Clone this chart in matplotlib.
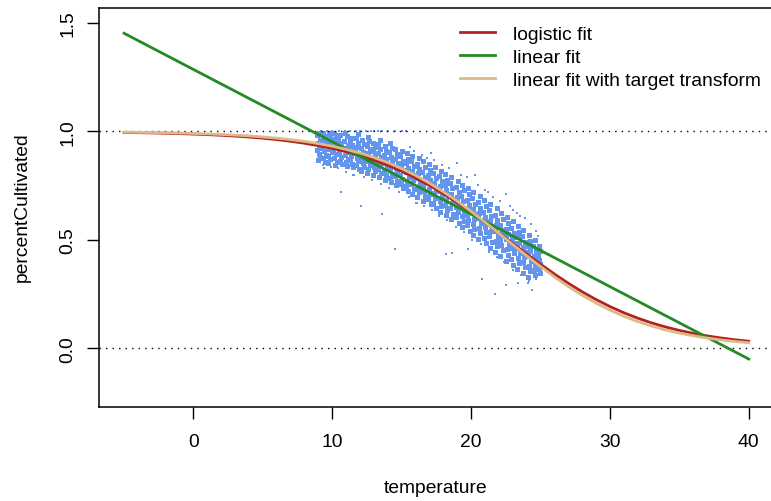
import matplotlib
matplotlib.use("Agg")
import matplotlib.pyplot as plt

plt.rcParams['font.family'] = ['Liberation Sans', 'DejaVu Sans']

# ---- observed points, dense core of the cloud (temperature, percentCultivated) ----
core_temp = [
    9.05, 8.92, 9.13, 8.97, 9.08, 8.88, 9.02, 9.15, 8.95,
    9.33, 9.48, 9.36, 9.52, 9.29, 9.44, 9.55, 9.31, 9.46,
    9.74, 9.86, 9.69, 9.91, 9.78, 9.95, 9.72, 9.84, 9.67,
    10.12, 10.27, 10.08, 10.31, 10.19, 10.05, 10.24, 10.14, 10.33, 10.21,
    10.58, 10.45, 10.66, 10.52, 10.71, 10.49, 10.63, 10.55, 10.68,
    10.93, 11.06, 10.87, 11.11, 10.98, 11.04, 10.91, 11.13, 10.96, 11.08,
    11.37, 11.26, 11.45, 11.31, 11.49, 11.35, 11.28, 11.43, 11.52,
    11.84, 11.71, 11.89, 11.76, 11.67, 11.92, 11.79, 11.86, 11.73, 11.95,
    12.15, 12.28, 12.09, 12.24, 12.33, 12.12, 12.19, 12.27, 12.07,
    12.55, 12.64, 12.49, 12.71, 12.58, 12.67, 12.52, 12.74, 12.61, 12.47,
    12.97, 13.08, 12.91, 13.05, 12.88, 13.12, 12.99, 13.06, 12.93,
    13.42, 13.33, 13.47, 13.29, 13.51, 13.38, 13.45, 13.31, 13.49, 13.36,
    13.77, 13.89, 13.72, 13.84, 13.69, 13.91, 13.75, 13.86, 13.81,
    14.16, 14.27, 14.11, 14.23, 14.31, 14.08, 14.19, 14.29, 14.13, 14.25,
    14.54, 14.66, 14.49, 14.71, 14.58, 14.63, 14.51, 14.69, 14.56,
    15.04, 14.91, 15.09, 14.95, 15.12, 14.88, 15.02, 14.97, 15.07,
    15.36, 15.47, 15.31, 15.44, 15.28, 15.51, 15.39, 15.33, 15.46,
    15.77, 15.68, 15.86, 15.73, 15.91, 15.79, 15.70, 15.88, 15.75,
    16.24, 16.11, 16.28, 16.15, 16.09, 16.31, 16.18, 16.26, 16.13,
    16.55, 16.67, 16.49, 16.71, 16.58, 16.52, 16.64, 16.69, 16.57,
    16.96, 17.07, 16.91, 17.03, 17.11, 16.94, 17.05, 16.89, 17.09,
    17.38, 17.29, 17.46, 17.33, 17.51, 17.35, 17.43, 17.27, 17.48,
    17.83, 17.71, 17.88, 17.76, 17.69, 17.91, 17.79, 17.86, 17.74,
    18.14, 18.26, 18.09, 18.22, 18.31, 18.17, 18.11, 18.28, 18.19,
    18.57, 18.49, 18.66, 18.53, 18.71, 18.61, 18.47, 18.68, 18.55,
    19.06, 18.93, 19.11, 18.97, 19.02, 18.89, 19.08, 18.95, 19.13,
    19.35, 19.47, 19.31, 19.44, 19.29, 19.52, 19.38, 19.46, 19.33,
    19.76, 19.87, 19.71, 19.84, 19.92, 19.73, 19.81, 19.68, 19.89,
    20.17, 20.08, 20.26, 20.13, 20.29, 20.21, 20.11, 20.24, 20.15,
    20.63, 20.51, 20.68, 20.55, 20.49, 20.71, 20.58, 20.66, 20.53,
    20.94, 21.06, 20.89, 21.03, 21.11, 20.97, 21.08, 20.92, 21.05,
    21.37, 21.28, 21.46, 21.33, 21.51, 21.41, 21.31, 21.48, 21.35,
    21.84, 21.72, 21.89, 21.77, 21.69, 21.91, 21.79, 21.86, 21.74,
    22.15, 22.27, 22.09, 22.23, 22.31, 22.12, 22.19, 22.28, 22.07,
    22.56, 22.67, 22.51, 22.64, 22.49, 22.71, 22.58, 22.69, 22.53,
    23.03, 22.91, 23.08, 22.95, 23.12, 22.98, 23.06, 22.89, 23.01,
    23.36, 23.47, 23.31, 23.44, 23.29, 23.51, 23.38, 23.46, 23.33,
    23.77, 23.69, 23.86, 23.73, 23.91, 23.79, 23.71, 23.88, 23.75,
    24.18, 24.27, 24.11, 24.24, 24.09, 24.31, 24.16, 24.22, 24.13,
    24.57, 24.49, 24.66, 24.53, 24.69, 24.58, 24.51, 24.64,
    24.88, 24.97, 24.84, 24.93, 24.99, 24.86, 24.95,
]
core_pct = [
    0.995, 0.985, 0.962, 0.948, 0.931, 0.915, 0.897, 0.882, 0.868,
    0.992, 0.978, 0.959, 0.941, 0.925, 0.909, 0.893, 0.876, 0.861,
    0.991, 0.972, 0.955, 0.938, 0.921, 0.906, 0.889, 0.871, 0.855,
    0.994, 0.983, 0.966, 0.947, 0.930, 0.912, 0.896, 0.879, 0.861, 0.846,
    0.985, 0.964, 0.946, 0.931, 0.917, 0.899, 0.881, 0.866, 0.849,
    0.993, 0.977, 0.958, 0.940, 0.924, 0.907, 0.891, 0.874, 0.858, 0.843,
    0.972, 0.955, 0.936, 0.918, 0.902, 0.886, 0.870, 0.852, 0.835,
    0.988, 0.968, 0.948, 0.930, 0.913, 0.896, 0.880, 0.862, 0.845, 0.828,
    0.962, 0.942, 0.924, 0.906, 0.889, 0.873, 0.855, 0.837, 0.818,
    0.975, 0.955, 0.935, 0.917, 0.899, 0.881, 0.864, 0.846, 0.828, 0.810,
    0.948, 0.927, 0.909, 0.891, 0.873, 0.856, 0.838, 0.820, 0.800,
    0.962, 0.942, 0.920, 0.901, 0.882, 0.864, 0.846, 0.828, 0.809, 0.790,
    0.933, 0.912, 0.892, 0.873, 0.855, 0.836, 0.818, 0.798, 0.778,
    0.948, 0.926, 0.904, 0.884, 0.864, 0.845, 0.826, 0.806, 0.786, 0.765,
    0.918, 0.895, 0.874, 0.853, 0.833, 0.813, 0.793, 0.772, 0.752,
    0.910, 0.886, 0.864, 0.843, 0.822, 0.801, 0.781, 0.760, 0.738,
    0.899, 0.875, 0.853, 0.832, 0.811, 0.790, 0.769, 0.748, 0.725,
    0.889, 0.864, 0.842, 0.820, 0.798, 0.777, 0.756, 0.734, 0.711,
    0.876, 0.851, 0.829, 0.807, 0.785, 0.763, 0.741, 0.719, 0.696,
    0.862, 0.838, 0.815, 0.792, 0.770, 0.748, 0.726, 0.703, 0.680,
    0.849, 0.824, 0.800, 0.777, 0.755, 0.733, 0.711, 0.688, 0.664,
    0.835, 0.809, 0.786, 0.763, 0.741, 0.718, 0.695, 0.672, 0.648,
    0.820, 0.794, 0.770, 0.747, 0.725, 0.702, 0.679, 0.656, 0.631,
    0.805, 0.778, 0.754, 0.731, 0.708, 0.685, 0.662, 0.639, 0.614,
    0.789, 0.762, 0.738, 0.714, 0.691, 0.668, 0.645, 0.621, 0.596,
    0.772, 0.745, 0.721, 0.697, 0.674, 0.651, 0.628, 0.604, 0.578,
    0.755, 0.728, 0.703, 0.679, 0.656, 0.633, 0.610, 0.586, 0.560,
    0.738, 0.710, 0.685, 0.661, 0.638, 0.615, 0.592, 0.568, 0.541,
    0.720, 0.692, 0.667, 0.643, 0.620, 0.597, 0.574, 0.549, 0.522,
    0.702, 0.673, 0.648, 0.624, 0.601, 0.578, 0.555, 0.530, 0.503,
    0.684, 0.655, 0.630, 0.606, 0.582, 0.559, 0.536, 0.511, 0.484,
    0.664, 0.636, 0.610, 0.586, 0.562, 0.539, 0.516, 0.491, 0.464,
    0.645, 0.616, 0.591, 0.567, 0.543, 0.520, 0.497, 0.472, 0.444,
    0.625, 0.596, 0.571, 0.547, 0.523, 0.500, 0.477, 0.452, 0.424,
    0.605, 0.576, 0.551, 0.527, 0.503, 0.480, 0.457, 0.432, 0.404,
    0.586, 0.557, 0.532, 0.508, 0.484, 0.461, 0.438, 0.413, 0.385,
    0.566, 0.537, 0.512, 0.488, 0.464, 0.441, 0.418, 0.393, 0.365,
    0.545, 0.517, 0.492, 0.468, 0.445, 0.422, 0.399, 0.374, 0.347,
    0.525, 0.497, 0.472, 0.448, 0.425, 0.402, 0.379, 0.355, 0.328,
    0.500, 0.474, 0.450, 0.427, 0.406, 0.385, 0.363, 0.340,
    0.470, 0.448, 0.427, 0.407, 0.387, 0.367, 0.347,
]

# ---- observed points, sparse fringe and outliers ----
fringe_temp = [
    9.2, 9.6, 10.0, 10.5, 10.9, 11.3, 11.7, 12.0, 12.4, 12.8, 13.0, 13.3, 13.6,
    14.0, 14.5, 15.0, 15.3,
    15.9, 16.5, 17.3, 17.9, 18.4, 19.3, 19.7, 20.5, 21.0, 21.6, 22.1, 22.8,
    23.3, 23.9, 24.3, 24.8,
    9.3, 9.9, 10.4, 11.0, 11.6, 12.3, 12.9, 13.5, 14.1, 14.8, 15.5, 16.1, 16.6,
    17.2, 17.7, 18.3, 18.9, 19.5, 20.1, 20.7, 21.3, 21.9, 22.4, 23.0, 23.6,
    24.2, 24.7,
    10.6, 12.1, 13.6, 14.5, 17.1, 19.0, 20.3, 22.5, 18.2, 18.6, 20.8, 21.7, 22.5,
    23.4, 24.1, 24.7, 23.5, 23.0, 11.5, 16.0, 9.4, 15.6, 16.8, 21.2, 24.4, 19.8,
]
fringe_pct = [
    1.0, 1.0, 1.0, 1.0, 1.0, 1.0, 1.0, 1.0, 1.0, 1.0, 1.0, 1.0, 1.0,
    1.0, 1.0, 1.0, 1.0,
    0.91, 0.89, 0.87, 0.845, 0.83, 0.80, 0.79, 0.755, 0.73, 0.70, 0.68, 0.655,
    0.625, 0.60, 0.575, 0.52,
    0.845, 0.835, 0.83, 0.815, 0.80, 0.79, 0.775, 0.76, 0.74, 0.72, 0.70, 0.67,
    0.655, 0.64, 0.61, 0.59, 0.56, 0.535, 0.50, 0.48, 0.445, 0.42, 0.40, 0.36,
    0.34, 0.31, 0.32,
    0.72, 0.655, 0.62, 0.46, 0.90, 0.856, 0.80, 0.71, 0.437, 0.44, 0.32, 0.25, 0.29,
    0.30, 0.30, 0.54, 0.61, 0.64, 0.80, 0.67, 0.83, 0.93, 0.88, 0.72, 0.27, 0.46,
]

# ---- fitted curves, sampled along temperature ----
curve_temp = list(range(-5, 41))
logistic_fit = [
    0.9955, 0.9945, 0.9933, 0.9919, 0.9902, 0.9881, 0.9856, 0.9825, 0.9789,
    0.9744, 0.9691, 0.9627, 0.9550, 0.9458, 0.9349, 0.9220, 0.9068, 0.8890,
    0.8682, 0.8443, 0.8168, 0.7858, 0.7512, 0.7130, 0.6715, 0.6271, 0.5805,
    0.5325, 0.4838, 0.4354, 0.3882, 0.3430, 0.3005, 0.2612, 0.2253, 0.1931,
    0.1645, 0.1394, 0.1176, 0.0989, 0.0828, 0.0691, 0.0576, 0.0479, 0.0397,
    0.0329,
]
transform_fit = [
    0.9968, 0.9961, 0.9951, 0.9940, 0.9927, 0.9910, 0.9889, 0.9864, 0.9833,
    0.9795, 0.9749, 0.9693, 0.9625, 0.9542, 0.9442, 0.9321, 0.9177, 0.9006,
    0.8804, 0.8567, 0.8292, 0.7977, 0.7621, 0.7223, 0.6788, 0.6318, 0.5822,
    0.5310, 0.4790, 0.4275, 0.3775, 0.3300, 0.2858, 0.2453, 0.2088, 0.1765,
    0.1483, 0.1239, 0.1030, 0.0853, 0.0704, 0.0580, 0.0476, 0.0390, 0.0319,
    0.0261,
]
linear_temp = [-5, 40]
linear_fit = [1.453, -0.049]

ref_levels = [0.0, 1.0]
x_ticks = [0, 10, 20, 30, 40]
y_ticks = [0.0, 0.5, 1.0, 1.5]
y_ticklabels = ["0.0", "0.5", "1.0", "1.5"]
series_labels = ["logistic fit", "linear fit", "linear fit with target transform"]
series_colors = ["#B22222", "#228B22", "#DEB887"]
point_color = "#6495ED"

FS = 13.9
W, H = 771, 502
fig = plt.figure(figsize=(W / 100, H / 100), dpi=100)
ax = fig.add_axes([99 / W, 1 - 407.5 / H, (773.7 - 99) / W, (407.5 - 9.3) / H])

ax.plot(core_temp, core_pct, linestyle="none", marker="s", ms=3.6, mew=0,
        color=point_color, zorder=1)
ax.plot(fringe_temp, fringe_pct, linestyle="none", marker="s", ms=2.0, mew=0,
        color=point_color, zorder=1)
for lv in ref_levels:
    ax.axhline(lv, color="black", lw=1.0, linestyle=(0, (1.0, 3.7)), zorder=2)

h1, = ax.plot(curve_temp, logistic_fit, color=series_colors[0], lw=2.0, zorder=3)
h2, = ax.plot(linear_temp, linear_fit, color=series_colors[1], lw=2.0, zorder=3)
h3, = ax.plot(curve_temp, transform_fit, color=series_colors[2], lw=2.0, zorder=3)

ax.set_xlim(-6.8, 41.8)
ax.set_ylim(-0.268, 1.568)
ax.set_xticks(x_ticks)
ax.set_xticklabels([str(t) for t in x_ticks], fontsize=FS)
ax.set_yticks(y_ticks)
ax.set_yticklabels(y_ticklabels, fontsize=FS, rotation=90, va="center")
ax.tick_params(axis="both", direction="out", length=8.4, width=1.0, color="black")
ax.tick_params(axis="x", pad=11)
ax.tick_params(axis="y", pad=8)
for sp in ax.spines.values():
    sp.set_linewidth(1.1)

fig.text(436 / W, 1 - 489 / H, "temperature", fontsize=FS, ha="center", va="center")
fig.text(22 / W, 1 - 207 / H, "percentCultivated", fontsize=FS, ha="center",
         va="center", rotation=90)

fig.legend([h1, h2, h3], series_labels, loc="upper left",
           bbox_to_anchor=(460 / W, 1 - 26 / H), frameon=False, fontsize=FS,
           handlelength=1.8, handletextpad=0.95, labelspacing=0.30,
           borderpad=0, borderaxespad=0)

fig.savefig("out.png", dpi=100)
